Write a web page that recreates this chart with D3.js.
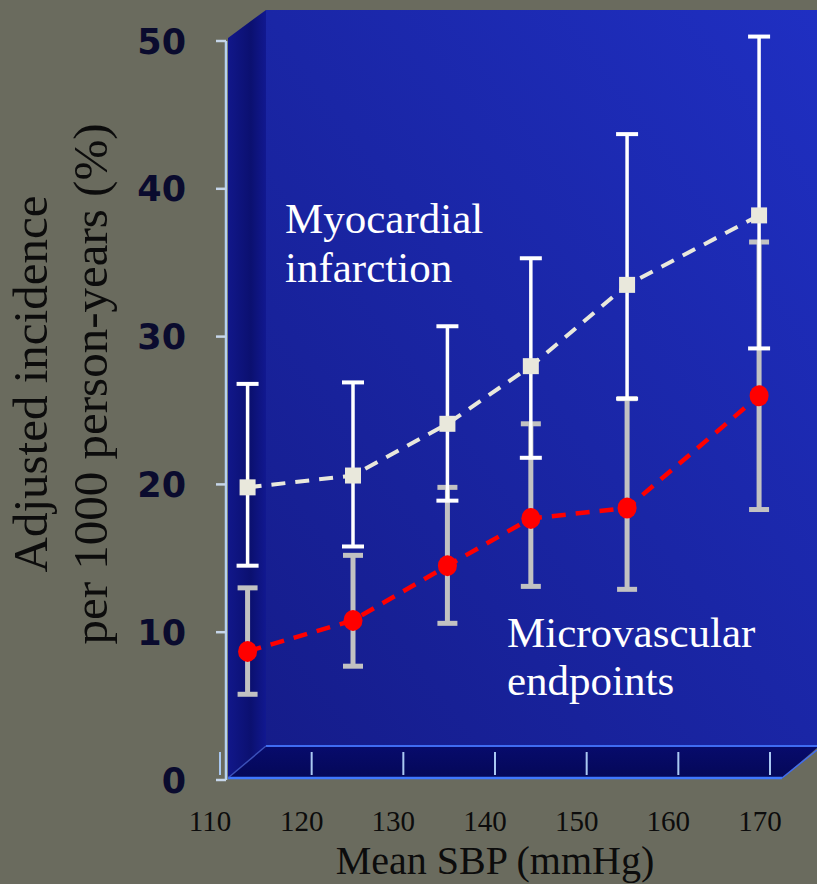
<!DOCTYPE html>
<html>
<head>
<meta charset="utf-8">
<script src="https://cdn.jsdelivr.net/npm/d3@7"></script>
<style>
  html, body { margin: 0; padding: 0; background: #6a6b5e; }
  svg { display: block; }
</style>
</head>
<body>
<svg id="chart" width="817" height="884"></svg>
<script>
// Mean systolic blood pressure per category (mmHg)
const sbp = [114.1, 125.6, 135.9, 145.0, 155.5, 169.9];

// Myocardial infarction: adjusted incidence per 1000 person-years, with 95% CI
const miMean = [19.8, 20.6, 24.1, 28.0, 33.5, 38.2];
const miLow  = [14.5, 15.8, 18.9, 21.8, 25.8, 29.2];
const miHigh = [26.8, 26.9, 30.7, 35.3, 43.7, 50.3];

// Microvascular endpoints
const mvMean = [8.7, 10.8, 14.5, 17.7, 18.4, 26.0];
const mvLow  = [5.8, 7.7, 10.6, 13.1, 12.9, 18.3];
const mvHigh = [13.0, 15.2, 19.8, 24.1, 25.8, 36.4];

const yTicks = [0, 10, 20, 30, 40, 50];
const xTicks = [110, 120, 130, 140, 150, 160, 170];

const svg = d3.select("#chart");
const W = 817;

const x = d3.scaleLinear().domain([110, 170]).range([210, 760]);
const y = d3.scaleLinear().domain([0, 50]).range([780, 41]);

// 3-D box geometry
const frontX = 228, backX = 266, depthY = 32;
const floorFront = 778, floorBack = floorFront - depthY;
const wallTop = 10;

const defs = svg.append("defs");
const gBack = defs.append("linearGradient").attr("id", "gBack")
  .attr("x1", 0).attr("y1", 1).attr("x2", 1).attr("y2", 0);
gBack.append("stop").attr("offset", 0).attr("stop-color", "#151c8a");
gBack.append("stop").attr("offset", 0.5).attr("stop-color", "#1a26a6");
gBack.append("stop").attr("offset", 1).attr("stop-color", "#1f2fc2");

const gSide = defs.append("linearGradient").attr("id", "gSide")
  .attr("x1", 0).attr("y1", 0).attr("x2", 1).attr("y2", 0);
gSide.append("stop").attr("offset", 0).attr("stop-color", "#11178a");
gSide.append("stop").attr("offset", 0.6).attr("stop-color", "#0b1070");
gSide.append("stop").attr("offset", 1).attr("stop-color", "#111890");

const gFloor = defs.append("linearGradient").attr("id", "gFloor")
  .attr("x1", 0).attr("y1", 0).attr("x2", 0).attr("y2", 1);
gFloor.append("stop").attr("offset", 0).attr("stop-color", "#070b6c");
gFloor.append("stop").attr("offset", 1).attr("stop-color", "#040858");

const box = svg.append("g");
// back wall
box.append("rect").attr("x", backX).attr("y", wallTop)
  .attr("width", W - backX).attr("height", floorBack - wallTop)
  .attr("fill", "url(#gBack)");
// left side wall
box.append("path")
  .attr("d", `M${frontX},${wallTop + depthY - 4} L${backX},${wallTop} L${backX},${floorBack} L${frontX},${floorFront} Z`)
  .attr("fill", "url(#gSide)");
// floor
const floorRight = 782;
box.append("path")
  .attr("d", `M${frontX},${floorFront} L${backX},${floorBack} L${W},${floorBack} L${W},${floorBack + 2} L${floorRight},${floorFront} Z`)
  .attr("fill", "url(#gFloor)");
box.append("line").attr("x1", backX).attr("x2", W).attr("y1", floorBack).attr("y2", floorBack)
  .attr("stroke", "#3f6cf2").attr("stroke-width", 2);
box.append("line").attr("x1", frontX).attr("x2", floorRight).attr("y1", floorFront).attr("y2", floorFront)
  .attr("stroke", "#3f78ff").attr("stroke-width", 2.5);
box.append("line").attr("x1", frontX).attr("x2", backX).attr("y1", floorFront).attr("y2", floorBack)
  .attr("stroke", "#4a66d8").attr("stroke-width", 1.5).attr("opacity", 0.7);
box.append("line").attr("x1", floorRight).attr("x2", W).attr("y1", floorFront).attr("y2", floorBack + 4)
  .attr("stroke", "#3f6cf2").attr("stroke-width", 1.5);

// floor tick marks
box.selectAll("line.ftick").data(xTicks).join("line").attr("class", "ftick")
  .attr("x1", d => x(d) + 10).attr("x2", d => x(d) + 10)
  .attr("y1", floorBack + 6).attr("y2", floorFront - 3)
  .attr("stroke", "#a9c8f2").attr("stroke-width", 2);

// y axis line and ticks
const axis = svg.append("g");
axis.append("line").attr("x1", 226).attr("x2", 226).attr("y1", y(50)).attr("y2", y(0))
  .attr("stroke", "#b6d2f2").attr("stroke-width", 2.5);
axis.selectAll("line.yt").data(yTicks).join("line").attr("class", "yt")
  .attr("x1", 216).attr("x2", 226).attr("y1", d => y(d)).attr("y2", d => y(d))
  .attr("stroke", "#c6d6ea").attr("stroke-width", 2.5);
axis.selectAll("text.yl").data(yTicks).join("text").attr("class", "yl")
  .attr("x", 186).attr("y", d => y(d)).attr("dy", "0.36em")
  .attr("text-anchor", "end")
  .attr("font-family", "DejaVu Sans, Verdana, sans-serif")
  .attr("font-weight", "bold").attr("font-size", 35)
  .attr("fill", "#0a0b2e")
  .text(d => d);

// x tick labels
svg.selectAll("text.xl").data(xTicks).join("text").attr("class", "xl")
  .attr("x", d => x(d)).attr("y", 831)
  .attr("text-anchor", "middle")
  .attr("font-family", "Liberation Serif, Times New Roman, serif")
  .attr("font-size", 29).attr("fill", "#0c0c0c")
  .text(d => d);

// axis titles
svg.append("text").attr("x", 495).attr("y", 874)
  .attr("text-anchor", "middle")
  .attr("font-family", "Liberation Serif, Times New Roman, serif")
  .attr("font-size", 40).attr("fill", "#0c0c0c")
  .text("Mean SBP (mmHg)");

const yTitle = svg.append("text")
  .attr("transform", "translate(0,384) rotate(-90)")
  .attr("text-anchor", "middle")
  .attr("font-family", "Liberation Serif, Times New Roman, serif")
  .attr("font-size", 49).attr("fill", "#0c0c0c");
yTitle.append("tspan").attr("x", 0).attr("y", 47).text("Adjusted incidence");
yTitle.append("tspan").attr("x", 0).attr("y", 107).text("per 1000 person-years (%)");

const plot = svg.append("g");

function errorBars(mean, low, high, color, barW, capW, capH, cls) {
  const idx = d3.range(mean.length);
  plot.selectAll("line." + cls).data(idx).join("line").attr("class", cls)
    .attr("x1", i => x(sbp[i])).attr("x2", i => x(sbp[i]))
    .attr("y1", i => y(high[i])).attr("y2", i => y(low[i]))
    .attr("stroke", color).attr("stroke-width", barW);
  plot.selectAll("rect." + cls + "h").data(idx).join("rect").attr("class", cls + "h")
    .attr("x", i => x(sbp[i]) - capW / 2).attr("y", i => y(high[i]) - capH / 2)
    .attr("width", capW).attr("height", capH).attr("fill", color);
  plot.selectAll("rect." + cls + "l").data(idx).join("rect").attr("class", cls + "l")
    .attr("x", i => x(sbp[i]) - capW / 2).attr("y", i => y(low[i]) - capH / 2)
    .attr("width", capW).attr("height", capH).attr("fill", color);
}

errorBars(mvMean, mvLow, mvHigh, "#c2c2c2", 5, 20, 5, "mv");
errorBars(miMean, miLow, miHigh, "#ffffff", 3.5, 22, 4, "mi");

const line = d3.line().x(d => x(d[0])).y(d => y(d[1]));

plot.append("path")
  .attr("d", line(sbp.map((s, i) => [s, miMean[i]])))
  .attr("fill", "none").attr("stroke", "#e9e8dc").attr("stroke-width", 4)
  .attr("stroke-dasharray", "14,10");
plot.append("path")
  .attr("d", line(sbp.map((s, i) => [s, mvMean[i]])))
  .attr("fill", "none").attr("stroke", "#ff0000").attr("stroke-width", 4.5)
  .attr("stroke-dasharray", "14,10");

plot.selectAll("rect.sq").data(d3.range(sbp.length)).join("rect").attr("class", "sq")
  .attr("x", i => x(sbp[i]) - 8).attr("y", i => y(miMean[i]) - 8)
  .attr("width", 16).attr("height", 16).attr("fill", "#e9e8dc");
plot.selectAll("ellipse.dot").data(d3.range(sbp.length)).join("ellipse").attr("class", "dot")
  .attr("cx", i => x(sbp[i])).attr("cy", i => y(mvMean[i]))
  .attr("rx", 9.5).attr("ry", 10.5).attr("fill", "#ff0000");

// series annotations
const ann = svg.append("g")
  .attr("font-family", "Liberation Serif, Times New Roman, serif")
  .attr("font-size", 43).attr("fill", "#ffffff");
ann.append("text").attr("x", 285).attr("y", 233).text("Myocardial");
ann.append("text").attr("x", 285).attr("y", 282).text("infarction");
ann.append("text").attr("x", 507).attr("y", 647).text("Microvascular");
ann.append("text").attr("x", 507).attr("y", 695).text("endpoints");
</script>
</body>
</html>
